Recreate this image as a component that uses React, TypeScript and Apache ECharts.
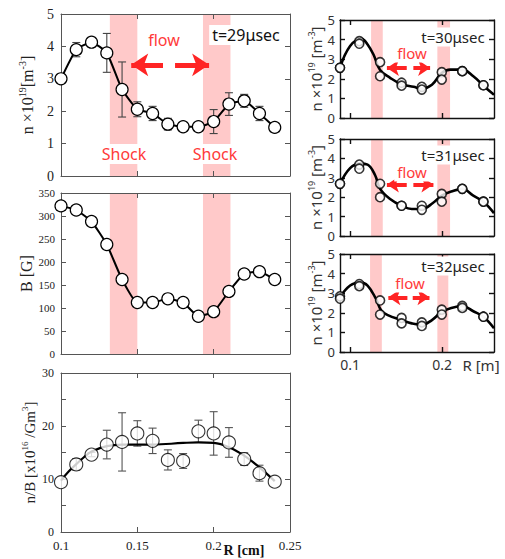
import React, { useEffect, useRef } from 'react';
import * as echarts from 'echarts';

// ---------- data ----------
const R_LEFT = [0.10, 0.11, 0.12, 0.13, 0.14, 0.15, 0.16, 0.17, 0.18, 0.19, 0.20, 0.21, 0.22, 0.23, 0.24];
const N29 = [3.0, 3.9, 4.13, 3.8, 2.67, 2.06, 1.93, 1.6, 1.52, 1.52, 1.68, 2.22, 2.32, 1.93, 1.5];
const N29_ERR = [0, 0.22, 0.15, 0.6, 0.85, 0.23, 0.22, 0.18, 0.08, 0.08, 0.37, 0.35, 0.2, 0.22, 0];
const B_VALS = [322, 313, 288, 238, 162, 112, 112, 120, 112, 82, 92, 136, 174, 179, 162];
const NB_VALS = [9.4, 12.75, 14.6, 16.5, 17.0, 18.6, 17.2, 13.6, 13.4, 19.0, 18.6, 16.9, 13.75, 11.1, 9.5];
const NB_ERR = [0, 1.1, 0.4, 2.7, 5.5, 2.4, 2.4, 1.9, 1.4, 2.1, 4.1, 2.8, 1.2, 1.5, 0];
const NB_FIT_R = [0.10, 0.105, 0.11, 0.115, 0.12, 0.13, 0.14, 0.16, 0.18, 0.19, 0.20, 0.21, 0.22, 0.23, 0.24];
const NB_FIT = [9.7, 11.4, 12.8, 14.1, 15.2, 16.2, 16.5, 16.5, 16.8, 16.9, 16.8, 16.0, 14.4, 12.2, 9.6];
const SHOCK_LEFT = [[0.132, 0.15], [0.193, 0.211]];
const ARROW_LEFT = { y: 3.43, leftFrom: 0.1668, leftTo: 0.146, rightFrom: 0.1747, rightTo: 0.197 };

const R_RIGHT = [0.089, 0.110, 0.1326, 0.156, 0.178, 0.1997, 0.222, 0.245];
const T30_UP = [2.56, 3.92, 2.85, 1.8, 1.59, 2.34, 2.39, 1.67];
const T30_LO = [2.56, 3.79, 2.13, 1.65, 1.45, 1.96, 2.39, 1.67];
const T31_UP = [2.69, 3.68, 2.69, 1.56, 1.56, 2.17, 2.43, 1.77];
const T31_LO = [2.69, 3.47, 2.0, 1.56, 1.35, 1.77, 2.43, 1.77];
const T32_UP = [2.84, 3.47, 2.63, 1.74, 1.51, 2.16, 2.35, 1.8];
const T32_LO = [2.72, 3.36, 1.91, 1.46, 1.33, 1.91, 2.25, 1.8];

const FIT30_R = [0.089, 0.1, 0.1125, 0.119, 0.1254, 0.1326, 0.1435, 0.156, 0.169, 0.178, 0.189, 0.1997, 0.209, 0.222, 0.234, 0.245, 0.2565];
const FIT30 = [2.56, 3.67, 4.04, 3.75, 3.24, 2.45, 2.05, 1.72, 1.59, 1.5, 1.7, 2.3, 2.47, 2.47, 2.13, 1.65, 1.19];
const FIT31_R = [0.089, 0.1, 0.111, 0.119, 0.1272, 0.1326, 0.1435, 0.156, 0.167, 0.178, 0.19, 0.1997, 0.21, 0.222, 0.234, 0.245, 0.2565];
const FIT31 = [2.69, 3.5, 3.73, 3.68, 3.13, 2.43, 1.91, 1.56, 1.39, 1.39, 1.7, 2.08, 2.29, 2.43, 2.08, 1.77, 1.18];
const FIT32_R = [0.089, 0.1, 0.111, 0.119, 0.128, 0.1337, 0.141, 0.156, 0.167, 0.178, 0.189, 0.1997, 0.21, 0.222, 0.234, 0.245, 0.2565];
const FIT32 = [2.8, 3.39, 3.56, 3.39, 2.72, 2.13, 1.88, 1.63, 1.46, 1.38, 1.63, 2.05, 2.25, 2.35, 2.08, 1.8, 1.21];

const SHOCK_RIGHT = [
  [[0.1228, 0.1355], [0.1949, 0.2087]],
  [[0.1228, 0.1355], [0.1949, 0.2087]],
  [[0.1217, 0.1345], [0.1949, 0.2068]],
];
const ARROW_RIGHT = [
  { y: 2.55, leftFrom: 0.1616, leftTo: 0.140, rightFrom: 0.1688, rightTo: 0.187 },
  { y: 2.66, leftFrom: 0.1616, leftTo: 0.140, rightFrom: 0.1688, rightTo: 0.1906 },
  { y: 2.79, leftFrom: 0.1623, leftTo: 0.1416, rightFrom: 0.1681, rightTo: 0.1863 },
];
const TIMES_RIGHT = ['t=30μsec', 't=31μsec', 't=32μsec'];

// ---------- styles / layout ----------
const SERIF = 'Liberation Serif';
const SANS = 'Noto Sans';
const PINK = '#ffc9c9';
const RED = '#ff2424';
const RED_TEXT = '#ff3a3a';

const GRIDS = [
  { left: 61, top: 14, width: 229, height: 162 },
  { left: 61, top: 193, width: 229, height: 161 },
  { left: 61, top: 373, width: 229, height: 159 },
  { left: 340, top: 20, width: 154, height: 98 },
  { left: 340, top: 139, width: 154, height: 97 },
  { left: 340, top: 254, width: 154, height: 98 },
];

function zip(xs: number[], ys: number[]) {
  return xs.map((x, i) => [x, ys[i]]);
}
function errData(xs: number[], ys: number[], es: number[]) {
  const out: number[][] = [];
  xs.forEach((x, i) => {
    if (es[i] > 0) out.push([x, ys[i] - es[i], ys[i] + es[i]]);
  });
  return out;
}

function errorSeries(gi: number, data: number[][], color: string, cap: number) {
  return {
    type: 'custom',
    xAxisIndex: gi * 2,
    yAxisIndex: gi * 2,
    z: 4,
    silent: true,
    data,
    encode: { x: 0, y: [1, 2] },
    renderItem: (params: any, api: any) => {
      const x = api.value(0);
      const a = api.coord([x, api.value(1)]);
      const b = api.coord([x, api.value(2)]);
      const style = { stroke: color, lineWidth: 1.1 };
      return {
        type: 'group',
        children: [
          { type: 'line', shape: { x1: a[0], y1: a[1], x2: b[0], y2: b[1] }, style },
          { type: 'line', shape: { x1: a[0] - cap, y1: a[1], x2: a[0] + cap, y2: a[1] }, style },
          { type: 'line', shape: { x1: b[0] - cap, y1: b[1], x2: b[0] + cap, y2: b[1] }, style },
        ],
      };
    },
  };
}

function bandSeries(gi: number, bands: number[][], arrow: any, lw: number, head: number) {
  const s: any = {
    type: 'line',
    xAxisIndex: gi * 2,
    yAxisIndex: gi * 2,
    z: 1,
    silent: true,
    data: [],
    markArea: {
      silent: true,
      itemStyle: { color: PINK, opacity: 1 },
      data: bands.map((b) => [{ xAxis: b[0] }, { xAxis: b[1] }]),
    },
  };
  if (arrow) {
    s.markLine = {
      silent: true,
      symbol: ['none', 'arrow'],
      symbolSize: head,
      label: { show: false },
      lineStyle: { color: RED, width: lw, type: 'solid', opacity: 1 },
      emphasis: { disabled: true },
      data: [
        [{ coord: [arrow.leftFrom, arrow.y] }, { coord: [arrow.leftTo, arrow.y] }],
        [{ coord: [arrow.rightFrom, arrow.y] }, { coord: [arrow.rightTo, arrow.y] }],
      ],
    };
  }
  return s;
}

function richName(family: string, size: number, color: string) {
  return {
    rich: {
      a: { fontFamily: family, fontSize: size, color, lineHeight: size + 4 },
      s: { fontFamily: family, fontSize: Math.round(size * 0.62), color, verticalAlign: 'top', lineHeight: size + 4 },
    },
  };
}

function buildOption() {
  const xAxis: any[] = [];
  const yAxis: any[] = [];
  GRIDS.forEach((g, gi) => {
    const isLeft = gi < 3;
    const lineStyle = isLeft ? { color: '#555', width: 1 } : { color: '#111', width: 1.4 };
    const tick = { show: true, inside: true, length: 5, lineStyle };
    const showX = gi === 2 || gi === 5;
    const xBase: any = isLeft
      ? { min: 0.1, max: 0.25, interval: 0.05 }
      : { min: 0.089, max: 0.2565 };
    const xLabel: any = isLeft
      ? {
          show: showX, fontFamily: SERIF, fontSize: 13, color: '#222', margin: 7,
          formatter: (v: number) => String(+v.toFixed(2)),
        }
      : {
          show: showX, fontFamily: SANS, fontSize: 14, color: '#333', margin: 5,
          customValues: [0.1, 0.2], formatter: (v: number) => String(+v.toFixed(2)),
        };
    const xTick: any = isLeft ? tick : { ...tick, customValues: [0.1, 0.2] };
    ['bottom', 'top'].forEach((pos) => {
      xAxis.push({
        gridIndex: gi, type: 'value', position: pos, z: 3, ...xBase,
        axisLine: { show: true, onZero: false, lineStyle },
        axisTick: xTick,
        axisLabel: pos === 'bottom' ? xLabel : { show: false },
        splitLine: { show: false },
      });
    });

    let yBase: any;
    let yLabel: any;
    let name = '';
    let nameTextStyle: any = {};
    let nameGap = 26;
    if (gi === 0) {
      yBase = { min: 0, max: 5, interval: 1 };
      yLabel = { fontFamily: SERIF, fontSize: 14, color: '#222', margin: 7 };
      name = '{a|n ×10}{s|19}{a|[m}{s|-3}{a|]}';
      nameGap = 24;
      nameTextStyle = richName(SERIF, 16, '#222');
    } else if (gi === 1) {
      yBase = { min: 0, max: 350, interval: 50 };
      yLabel = { fontFamily: SERIF, fontSize: 11, color: '#222', margin: 6 };
      name = 'B [G]';
      nameGap = 27;
      nameTextStyle = { fontFamily: SERIF, fontSize: 16, color: '#222' };
    } else if (gi === 2) {
      yBase = { min: 0, max: 30, interval: 5 };
      yLabel = { fontFamily: SERIF, fontSize: 12, color: '#222', margin: 7,
        formatter: (v: number) => (v % 10 === 0 ? String(v) : '') };
      name = '{a|n/B [x10}{s|16}{a| /Gm}{s|3}{a|]}';
      nameGap = 22;
      nameTextStyle = richName(SERIF, 15, '#222');
    } else {
      yBase = { min: 0, max: 5, interval: 1 };
      yLabel = { fontFamily: SANS, fontSize: 13, color: '#333', margin: 5 };
      name = '{a|n ×10}{s|19}{a| [m}{s|-3}{a|]}';
      nameGap = 14;
      nameTextStyle = richName(SANS, 15, '#333');
    }
    ['left', 'right'].forEach((pos) => {
      yAxis.push({
        gridIndex: gi, type: 'value', position: pos, z: 3, ...yBase,
        axisLine: { show: true, onZero: false, lineStyle },
        axisTick: tick,
        axisLabel: pos === 'left' ? yLabel : { show: false },
        splitLine: { show: false },
        name: pos === 'left' ? name : '',
        nameLocation: 'middle',
        nameGap,
        nameRotate: 90,
        nameTextStyle,
      });
    });
  });

  const marker = (size: number, bw: number) => ({
    symbol: 'circle',
    symbolSize: size,
    itemStyle: { color: '#fff', borderColor: '#000', borderWidth: bw },
  });

  const series: any[] = [];
  // panel 0: density t=29
  series.push(bandSeries(0, SHOCK_LEFT, ARROW_LEFT, 5, 17));
  series.push(errorSeries(0, errData(R_LEFT, N29, N29_ERR), '#444', 4));
  series.push({
    type: 'line', xAxisIndex: 0, yAxisIndex: 0, z: 5, silent: true, smooth: 0.15,
    data: zip(R_LEFT, N29), lineStyle: { color: '#000', width: 2 }, ...marker(12, 1.2),
  });
  // panel 1: B
  series.push(bandSeries(1, SHOCK_LEFT, null, 0, 0));
  series.push({
    type: 'line', xAxisIndex: 2, yAxisIndex: 2, z: 5, silent: true, smooth: 0.15,
    data: zip(R_LEFT, B_VALS), lineStyle: { color: '#000', width: 2 }, ...marker(12, 1.2),
  });
  // panel 2: n/B
  series.push(errorSeries(2, errData(R_LEFT, NB_VALS, NB_ERR), '#555', 4));
  series.push({
    type: 'line', xAxisIndex: 4, yAxisIndex: 4, z: 4, silent: true, smooth: 0.4, showSymbol: false,
    data: zip(NB_FIT_R, NB_FIT), lineStyle: { color: '#000', width: 2.2 },
  });
  series.push({
    type: 'scatter', xAxisIndex: 4, yAxisIndex: 4, z: 5, silent: true,
    data: zip(R_LEFT, NB_VALS), ...marker(13, 1.1),
  });
  // right panels
  const fits = [[FIT30_R, FIT30], [FIT31_R, FIT31], [FIT32_R, FIT32]];
  const pts = [[T30_UP, T30_LO], [T31_UP, T31_LO], [T32_UP, T32_LO]];
  [3, 4, 5].forEach((gi, k) => {
    series.push(bandSeries(gi, SHOCK_RIGHT[k], ARROW_RIGHT[k], 4, 12));
    series.push({
      type: 'line', xAxisIndex: gi * 2, yAxisIndex: gi * 2, z: 4, silent: true, smooth: 0.4,
      showSymbol: false, data: zip(fits[k][0], fits[k][1]), lineStyle: { color: '#000', width: 2.6 },
    });
    series.push({
      type: 'scatter', xAxisIndex: gi * 2, yAxisIndex: gi * 2, z: 5, silent: true,
      data: zip(R_RIGHT, pts[k][0]).concat(zip(R_RIGHT, pts[k][1])), ...marker(9, 1.6),
    });
  });

  const label = (text: string, x: number, y: number, size: number, color: string, bg: boolean, family = SANS, weight = 'normal') => ({
    type: 'text', x, y, z: 20, silent: true,
    style: {
      text, x: 0, y: 0, align: 'center', verticalAlign: 'middle',
      font: `${weight} ${size}px "${family}"`, fill: color,
      backgroundColor: bg ? '#fff' : undefined, padding: bg ? [2, 3] : 0,
    },
  });

  const graphic: any[] = [
    label('flow', 164, 40, 16, RED_TEXT, true),
    label('t=29μsec', 246, 35, 16, '#111', true),
    label('Shock', 124, 154, 16, RED_TEXT, true),
    label('Shock', 215, 154, 16, RED_TEXT, true),
    label('R [cm]', 244, 550, 14, '#111', false, SERIF, 'bold'),
    label('flow', 412, 53, 15, RED_TEXT, true),
    label('flow', 412, 172, 15, RED_TEXT, true),
    label('flow', 410, 283, 15, RED_TEXT, true),
    label(TIMES_RIGHT[0], 453, 37, 15, '#222', true),
    label(TIMES_RIGHT[1], 453, 155, 15, '#222', true),
    label(TIMES_RIGHT[2], 453, 266, 15, '#222', true),
    label('R [m]', 481, 365, 15, '#333', false),
  ];

  return {
    animation: false,
    backgroundColor: '#fff',
    grid: GRIDS.map((g) => ({ ...g, containLabel: false })),
    xAxis,
    yAxis,
    series,
    graphic,
  };
}

export default function App() {
  const ref = useRef<HTMLDivElement>(null);
  useEffect(() => {
    document.body.style.margin = '0';
    const chart = echarts.init(ref.current as HTMLDivElement, null, { renderer: 'svg' });
    chart.setOption(buildOption() as any);
    return () => chart.dispose();
  }, []);
  return <div ref={ref} style={{ width: 505, height: 559, background: '#fff' }} />;
}
